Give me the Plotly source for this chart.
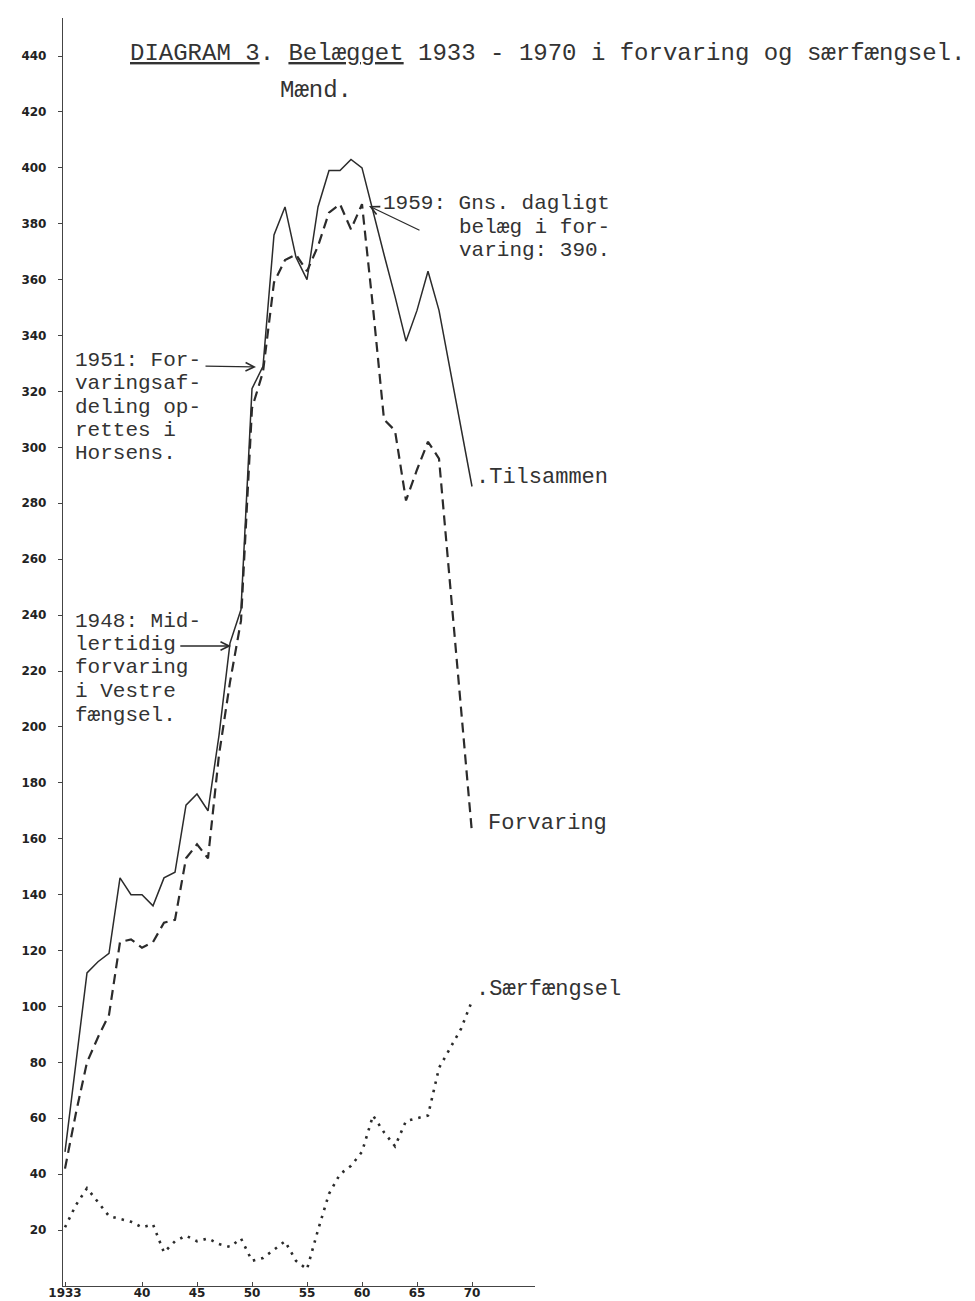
import plotly.graph_objects as go

# ---------------- data ----------------
years = list(range(1933, 1971))

tilsammen = [48, 80, 112, 116, 119, 146, 140, 140, 136, 146,
             148, 172, 176, 170, 197, 230, 242, 321, 329, 376,
             386, 368, 360, 386, 399, 399, 403, 400, 384, 369,
             354, 338, 349, 363, 349, 328, 307, 286]

forvaring = [42, 62, 80, 89, 97, 123, 124, 121, 123, 130,
             131, 153, 158, 153, 190, 216, 238, 314, 327, 359,
             367, 369, 363, 372, 384, 387, 378, 387, 350, 310,
             306, 281, 292, 302, 296, 251, 206, 162]

saerfaengsel = [21, 29, 35, 30, 25, 24, 23, 21, 22, 12,
                16, 18, 16, 17, 15, 14, 17, 9, 10, 13,
                16, 9, 6, 20, 33, 40, 43, 48, 61, 55,
                50, 59, 60, 61, 78, 85, 92, 102]

y_tickvals = list(range(20, 441, 20))
x_tickvals = [1933, 1940, 1945, 1950, 1955, 1960, 1965, 1970]
x_ticktext = ["1933", "40", "45", "50", "55", "60", "65", "70"]

# ---------------- layout geometry ----------------
W, H = 975, 1301
L, T = 55, 10
BOTTOM = 1278
PW, PH = 472, BOTTOM - T
YSCALE = (BOTTOM - 48) / 440.0   # px per unit, 440 sits at y=48


def px(x):
    return (x - L) / PW


def py(y):
    return (BOTTOM - y) / PH


INK = "#2b2b2b"
MONO = "Liberation Mono, Courier New, monospace"
HAND = "DejaVu Sans, Arial, sans-serif"

fig = go.Figure()
fig.add_trace(go.Scatter(x=years, y=tilsammen, mode="lines", name="Tilsammen",
                         line=dict(color=INK, width=1.5)))
fig.add_trace(go.Scatter(x=years, y=forvaring, mode="lines", name="Forvaring",
                         line=dict(color=INK, width=2.2, dash="10px,6px")))
fig.add_trace(go.Scatter(x=years, y=saerfaengsel, mode="lines", name="Særfængsel",
                         line=dict(color=INK, width=2.6, dash="2.5px,6px")))

annotations = []


def text(t, x, y, size=24, anchor="left"):
    annotations.append(dict(text=t, x=px(x), y=py(y), xref="paper", yref="paper",
                            xanchor=anchor, yanchor="middle", showarrow=False,
                            borderpad=0,
                            font=dict(family=MONO, size=size, color="#333")))


def arrow(hx, hy, tx, ty):
    annotations.append(dict(text="", x=px(hx), y=py(hy), xref="paper", yref="paper",
                            ax=tx - hx, ay=ty - hy, showarrow=True,
                            arrowhead=5, arrowsize=1.3, arrowwidth=1.3,
                            arrowcolor=INK))


BS = 21      # block text size
LS = 23.5    # block line spacing
CW = BS * 0.6

text("<u>DIAGRAM 3</u>. <u>Belægget</u> 1933 - 1970 i forvaring og særfængsel.", 121, 45)
text("Mænd.", 271, 83)

text("1959: Gns. dagligt", 374, 196, BS)
text("belæg i for-", 374 + 6 * CW, 196 + LS, BS)
text("varing: 390.", 374 + 6 * CW, 196 + 2 * LS, BS)
arrow(361, 198, 413, 223)

for i, line in enumerate(["1951: For-", "varingsaf-", "deling op-", "rettes i", "Horsens."]):
    text(line, 66, 352 + i * LS, BS)
arrow(248, 359, 66 + 10 * CW + 4, 358)

for i, line in enumerate(["1948: Mid-", "lertidig", "forvaring", "i Vestre", "fængsel."]):
    text(line, 66, 613 + i * LS, BS)
arrow(223, 638, 66 + 8 * CW + 4, 638)

text(".Tilsammen", 467, 470, 22)
text("Forvaring", 479, 815, 22)
text(".Særfængsel", 467, 981, 22)

fig.update_layout(
    width=W, height=H,
    margin=dict(l=L, r=W - L - PW, t=T, b=H - BOTTOM, autoexpand=False),
    paper_bgcolor="white", plot_bgcolor="white",
    showlegend=False,
    annotations=annotations,
)

fig.update_xaxes(range=[1933 - 2 / 11, 1933 + 470 / 11],
                 tickvals=x_tickvals, ticktext=x_ticktext,
                 showgrid=False, zeroline=False, showline=True,
                 linecolor="#444", linewidth=1.3,
                 ticks="inside", ticklen=4, tickcolor="#444",
                 ticklabelstandoff=-5,
                 tickfont=dict(family=HAND, size=12, color="#222", weight="bold"),
                 automargin=False)
fig.update_yaxes(range=[0, PH / YSCALE],
                 tickvals=y_tickvals,
                 showgrid=False, zeroline=False, showline=True,
                 linecolor="#444", linewidth=1.3,
                 ticks="outside", ticklen=4, tickcolor="#444",
                 ticklabelstandoff=9,
                 tickfont=dict(family=HAND, size=12, color="#222", weight="bold"),
                 automargin=False)

fig.write_html("out.html")
